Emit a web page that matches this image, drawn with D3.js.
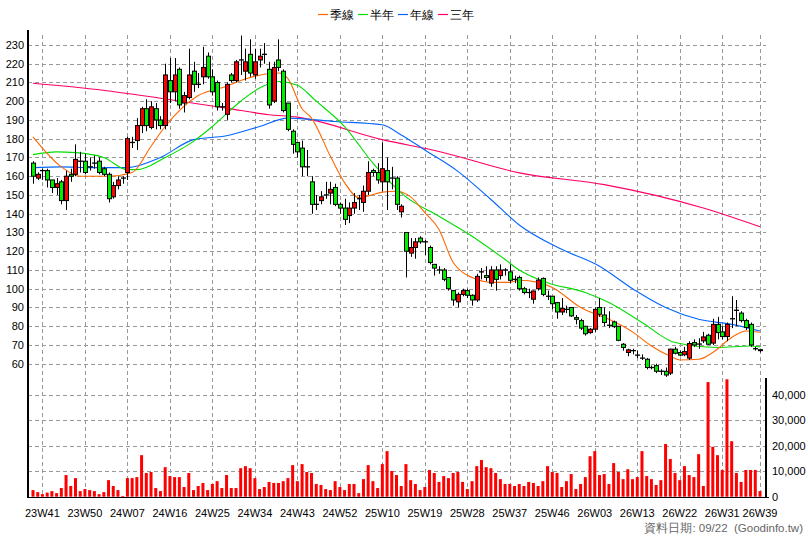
<!DOCTYPE html>
<html><head><meta charset="utf-8">
<script src="https://cdn.jsdelivr.net/npm/d3@7"></script>
<style>body{margin:0;background:#fff}svg{font-family:Arial,"Liberation Sans",sans-serif}</style>
</head><body><svg id="c" width="808" height="540"></svg>
<script>
const opens=[167,159,163,163,158,154,157,147,161,161,168,168,165,167,168,164,161,149,155,159,162,178,179,187,196,186,196,190,187,211,205,217,199,202,216,209,213,224,213,210,197,193,214,211,222,216,225,214,222,225,217,200,222,216,199,184,178,175,165,157,145,147,150,151,154,145,143,139,143,148,146,152,163,162,157,163,159,159,141,130,119,122,127,125,122,113,110,110,106,99,93,97,99,96.5,94,109,107,103,110,107,110,109,105,106,100,98,94.4,100,105.5,96,96,92.6,87.6,89,90,84.6,83,80,76.6,78.4,90,86,80.5,82.3,80,70.4,66,67,64.6,63,62.4,58,59,56,56,55,67.8,66,64.8,63,71.3,70.5,72.2,75.2,71,81,77,74.5,84,88.5,87,83,81,68,67.5];
const highs=[168,162,164,164,158,159,158,163,164,177,173,172,170,171,170,165,162,157,160,160,181,181,191,197,201,200,199,192,220,223,223,218,205,228,221,215,229,226,217,211,199,210,215,222,235,228,233,228,228,231,221,221,233,217,199,185,178,179,174,160,150,152,157,157,156,146,148,146,151,150,155,168,164,167,178,170,165,160,145,130,127,127,128,126,123,113,112,111,106,99,98,100,100,97,108,111,112,112,112,113,111,113,107,107,101,100,99,106,106,99,96,93,95,91,90,86,84,80,79,90,95,90,88,83,80,71,68,68,67,65,63,59,60,57,58,68,69,67,69,72,73,73.6,77,76,84,85,80,82,96,94,88,84,82,69,68];
const lows=[156,158,158,154,151,150,145,142,157,160,162,161,163,164,161,160,146,148,153,156,158,175,174,183,184,185,185,185,185,199,200,196,194,201,205,207,209,212,203,195,195,190,210,210,214,211,213,212,218,220,196,199,216,194,184,172,170,160,160,140,142,145,148,145,144,140,134,135,140,142,141,150,160,156,152,142,153,142,138,106,117,116,124,118,113,107,108,104,99,91,90,96,95,91,93,105,104,101,99,105,107,103,103,99,97,95,92,99,96,94,89,84,86,87,85,81,78,75,76,77,85,80,79,79,72,67,64,65,63,62,57,57,55,54,53,54,65,64,64,62,69,68,71,70,70,73,73,72,79,80,82,78,69,67,66];
const closes=[160,161,163,158,154,156,147,160,160,169,168,162,165,167,162,161,148,155,158,159,180,178,187,196,187,197,190,187,214,205,214,198,203,214,209,209,218,213,205,197,197,209,211,221,222,221,215,221,224,225,198,218,218,195,185,177,173,165,165,145,145,149,150,153,145,143,137,143,146,148,152,162,162,158,164,157,159,145,144,120,122,125,125,125,114,111,110,105,100,94,97,99,96.5,94,106.6,109,106,110,105,110,110,104.5,105,100,98,98,98.8,104.6,97,96,92,87.6,89.4,89,85.5,83.7,79,76,78.4,89,86.4,82,80.5,79.8,72.5,68.7,67.4,67,64.6,63,58,58,56,56,54,67.8,65.6,64.6,66.5,70.8,70,70.5,74.3,70.4,81,76.6,74.5,81,84,88.5,83,79.3,70,68,67.4];
const volumes=[2600,1800,1000,1600,2200,1400,3400,8500,4200,7300,2200,3000,2600,2200,1000,1800,6500,4200,2600,300,7300,7300,7700,16300,9300,9700,3400,2200,11600,8100,7700,7700,3800,9300,2600,4200,5400,2600,5000,6100,3400,8500,3400,3400,11200,12000,11200,7300,3000,3800,5800,5400,5400,6100,7300,12400,6100,12800,9700,9300,5000,4600,3000,2600,6100,3800,2600,5000,5000,1400,6900,12400,6100,3400,12800,17900,10100,8500,4200,12800,6500,5000,2600,3800,10500,9300,5800,8100,7300,9300,9700,5800,3000,6100,12000,14400,11600,11200,9300,6900,5000,5000,4200,5000,4200,5800,5400,4200,6100,12000,9700,9300,3800,6100,8900,3000,5000,7700,15900,17900,8500,8900,5000,13200,9700,6900,10800,6900,7700,17900,8100,6900,4600,6500,20700,14800,9300,6500,12000,8500,7700,16700,4200,45000,19600,16300,10500,46100,21800,9300,5800,10500,10500,10500,2200];
const tickIdx=[2,11,20,29,38,47,56,65,74,83,92,101,110,119,128,137,146,154];
const tickLabels=["23W41","23W50","24W07","24W16","24W25","24W34","24W43","24W52","25W10","25W19","25W28","25W37","25W46","26W03","26W13","26W22","26W31","26W39"];
const maQIdx=[0,6,10,16,21,25,28,35,41,44,49,52,54,57,59,63,66,69,71,74,77,80,83,86,89,91,93,97,101,103,107,110,116,122,127,131,135,137,141,144,148,151,154];
const maQVal=[181,165,160,160,162,176,186.5,203,208,211,214.4,215,212,196,191,170.6,156.6,148.6,149.5,151.5,152,149,140.6,131.6,114,108.7,106,103.4,103.4,104.5,103.4,100.7,90,83.7,77,69.5,64,62,62.4,66,74,77.5,76.8];
const maHIdx=[0,5,9,15,20,22,28,34,38,44,48,52,56,60,66,72,79,86,93,100,103,109,117,122,129,136,145,152,154];
const maHVal=[171.5,173,172.6,170,163.5,163.5,170,178.6,186.5,200,207,210.5,208.5,200,186.5,167,149,138.7,128,115.6,110,103.2,98,92.6,82,71.3,68.7,69.5,69];
const maYIdx=[0,6,12,20,27,34,41,48,54,64,74,78,83,90,97,103,112,120,127,134,141,148,154];
const maYVal=[164.6,165,164.6,164.6,170,179.5,181.6,186.5,191,189.2,187.4,182,174,162.6,147.6,134,121,112,100,90,83.7,81,77.5];
const ma3Idx=[0,13,27,41,50,56,74,86,103,121,142,154];
const ma3Val=[209.6,206.4,201.6,196.3,192.8,191.5,179.5,173.2,161.8,155.5,143,133];
const priceTicks=[60,70,80,90,100,110,120,130,140,150,160,170,180,190,200,210,220,230];
const volTicks=[0,10000,20000,30000,40000];
const legendNames=["季線","半年","年線","三年"];
const legendColors=["#ff6600","#00dd00","#0066ff","#ff0066"];

const svg=d3.select("#c");
const x=d3.scaleLinear().domain([0,154]).range([33,760]);
const y=d3.scaleLinear().domain([54,235.3]).range([375,35]);
const yv=d3.scaleLinear().domain([0,47000]).range([496.7,377]);
const L=28,R=766;
const g=svg.append("g");
// grid
const gs={stroke:"#999","stroke-dasharray":"4,3","stroke-width":1};
g.selectAll(".hg").data(priceTicks).join("line").attr("x1",L).attr("x2",R).attr("y1",d=>Math.round(y(d))+.5).attr("y2",d=>Math.round(y(d))+.5).attr("stroke",gs.stroke).attr("stroke-dasharray",gs["stroke-dasharray"]);
g.selectAll(".vgl").data(volTicks.slice(1)).join("line").attr("x1",L).attr("x2",R).attr("y1",d=>Math.round(yv(d))+.5).attr("y2",d=>Math.round(yv(d))+.5).attr("stroke","#999").attr("stroke-dasharray","4,3");
g.selectAll(".vg").data(tickIdx).join("line").attr("x1",d=>Math.round(x(d))+.5).attr("x2",d=>Math.round(x(d))+.5).attr("y1",35).attr("y2",497).attr("stroke","#999").attr("stroke-dasharray","4,3");
// axes lines
svg.append("line").attr("x1",L).attr("x2",L).attr("y1",30).attr("y2",498).attr("stroke","#000").attr("stroke-width",2);
svg.append("line").attr("x1",L).attr("x2",R+3).attr("y1",497.5).attr("y2",497.5).attr("stroke","#000").attr("stroke-width",1);
svg.append("line").attr("x1",R).attr("x2",R).attr("y1",378).attr("y2",498).attr("stroke","#000").attr("stroke-width",2);
// price labels
svg.selectAll(".pl").data(priceTicks).join("text").attr("x",24).attr("y",d=>y(d)+4).attr("text-anchor","end").attr("font-size",11).attr("fill","#000").text(d=>d);
svg.selectAll(".vl").data(volTicks).join("text").attr("x",772).attr("y",d=>yv(d)+4).attr("font-size",11).attr("fill","#000").text(d=>d3.format(",")(d));
svg.selectAll(".xl").data(tickIdx).join("text").attr("x",d=>x(d)).attr("y",517).attr("text-anchor","middle").attr("font-size",11).attr("fill","#000").text((d,i)=>tickLabels[i]);
svg.append("text").attr("x",803).attr("y",532).attr("text-anchor","end").attr("font-size",11.5).attr("fill","#666").text("資料日期: 09/22  (Goodinfo.tw)").attr("xml:space","preserve");
// volume bars
svg.selectAll(".vb").data(volumes).join("rect").attr("x",(d,i)=>x(i)-1.5).attr("width",3).attr("y",d=>yv(d)).attr("height",d=>yv(0)-yv(d)).attr("fill","#ff0000");
// MA lines
const line=d3.line().curve(d3.curveMonotoneX);
function ma(idx,val,c){svg.append("path").attr("d",line(idx.map((d,i)=>[x(d),y(val[i])]))).attr("fill","none").attr("stroke",c).attr("stroke-width",1.1);}
ma(ma3Idx,ma3Val,legendColors[3]);
ma(maYIdx,maYVal,legendColors[2]);
ma(maHIdx,maHVal,legendColors[1]);
ma(maQIdx,maQVal,legendColors[0]);
// candles
const cg=svg.append("g");
opens.forEach((o,i)=>{
  const c=closes[i],cx=Math.round(x(i))+.5;
  cg.append("line").attr("x1",cx).attr("x2",cx).attr("y1",y(highs[i])).attr("y2",y(lows[i])).attr("stroke","#000");
  if(o===c){cg.append("line").attr("x1",cx-2.5).attr("x2",cx+2.5).attr("y1",y(c)).attr("y2",y(c)).attr("stroke","#000").attr("stroke-width",1.3);}
  else{const t=y(Math.max(o,c)),b=y(Math.min(o,c));
   cg.append("rect").attr("x",cx-2).attr("width",4).attr("y",t).attr("height",Math.max(1,b-t)).attr("fill",c>o?"#ff0000":"#00ee00").attr("stroke","#000").attr("stroke-width",1);}
});
// legend
const lg=svg.append("g");
let lx=318;
legendNames.forEach((n,i)=>{
  lg.append("line").attr("x1",lx).attr("x2",lx+10).attr("y1",14.5).attr("y2",14.5).attr("stroke",legendColors[i]).attr("stroke-width",1.2);
  lg.append("text").attr("x",lx+12).attr("y",19).attr("font-size",12).attr("fill","#000").text(n);
  lx+=40;
});
</script></body></html>
